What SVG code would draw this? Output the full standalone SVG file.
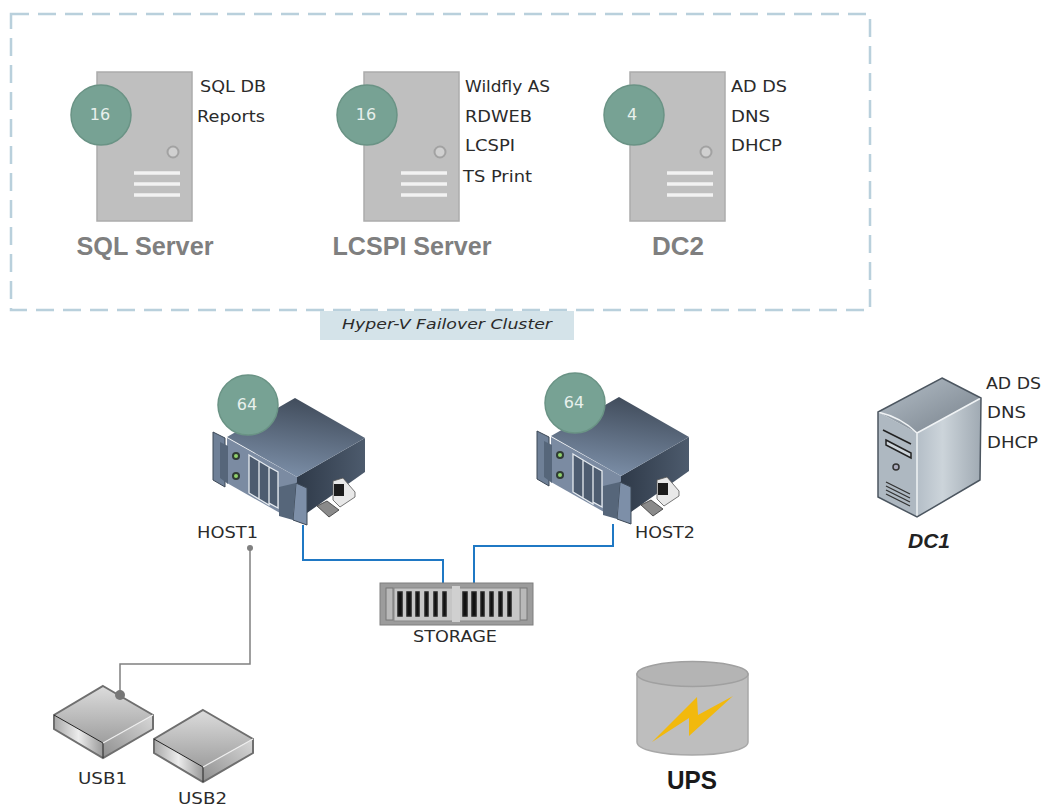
<svg xmlns="http://www.w3.org/2000/svg" xmlns:xlink="http://www.w3.org/1999/xlink" width="1043" height="807" viewBox="0 0 1043 807">
<style>
text{font-family:"DejaVu Sans","Liberation Sans",sans-serif;font-size:15px;fill:#2b2b2b}
.big{font-family:"Liberation Sans",sans-serif;font-size:25px;font-weight:bold;fill:#7f7f7f;text-anchor:middle}
.num{fill:#e8f0ec;text-anchor:middle;font-size:16px}
.mid{text-anchor:middle}
.badge{fill:#77a294;stroke:#6a9385;stroke-width:1.5}
.vm{fill:#bfbfbf;stroke:#acacac;stroke-width:1.5}
.knob{fill:#d0d0d0;stroke:#a2a2a2;stroke-width:2}
.bar{stroke:#f2f2f2;stroke-width:3.5}
.blue{fill:none;stroke:#1f78c4;stroke-width:2}
.grey{fill:none;stroke:#808080;stroke-width:1.5}
</style>
<defs>
<linearGradient id="hTop" x1="0.65" y1="0" x2="0.4" y2="1"><stop offset="0" stop-color="#3f4a59"/><stop offset="1" stop-color="#7c8fa8"/></linearGradient>
<linearGradient id="hSide" x1="0" y1="0" x2="1" y2="0"><stop offset="0" stop-color="#2f3a49"/><stop offset="1" stop-color="#4d5b6d"/></linearGradient>
<linearGradient id="uTop" x1="0.5" y1="0" x2="0.5" y2="1"><stop offset="0" stop-color="#dcdcdc"/><stop offset="1" stop-color="#9f9f9f"/></linearGradient>
<linearGradient id="uL" x1="0" y1="0" x2="1" y2="0"><stop offset="0" stop-color="#a8a8a8"/><stop offset="0.5" stop-color="#ececec"/><stop offset="1" stop-color="#999"/></linearGradient>
<linearGradient id="uR" x1="0" y1="1" x2="1" y2="0"><stop offset="0" stop-color="#8f8f8f"/><stop offset="1" stop-color="#d8d8d8"/></linearGradient>
<linearGradient id="dTop" x1="0" y1="0" x2="1" y2="1"><stop offset="0" stop-color="#b6c0c9"/><stop offset="1" stop-color="#76808a"/></linearGradient>
<linearGradient id="dSide" x1="0" y1="0" x2="1" y2="0"><stop offset="0" stop-color="#b4bec7"/><stop offset="0.4" stop-color="#ccd4da"/><stop offset="1" stop-color="#a0aab3"/></linearGradient>
<g id="vmBox">
<rect class="vm" x="0" y="0" width="95" height="149"/>
<circle class="knob" cx="76" cy="80" r="5.500"/>
<path class="bar" d="M37 101H83M37 112H83M37 123H83"/>
</g>
<g id="hostBox">
<polygon points="297,477 365,438 365,472 307,513 297,500" fill="url(#hSide)"/>
<polygon points="295,398 365,438 297,477 227,437" fill="url(#hTop)"/>
<polygon points="227,438 297,477 297,500 280,513 227,483" fill="#7b8ba2"/>
<polygon points="213,432 225,438 225,487 213,480" fill="#6f8097" stroke="#3c4856"/>
<polygon points="220,442 228,446 228,484 220,478" fill="#56667a"/>
<path d="M249 455l10 6v38l-10-6zM259 461l10 6v38l-10-6zM269 467l9 5v36l-9-5z" fill="#4d5c70" stroke="#e6ebf0" stroke-width="1.300"/>
<circle cx="236" cy="456" r="4" fill="#2f3b35"/><circle cx="236" cy="456" r="2" fill="#8fd06a"/>
<circle cx="236" cy="476" r="4" fill="#2f3b35"/><circle cx="236" cy="476" r="2" fill="#8fd06a"/>
<polygon points="296,483 307,488 307,525 293,520" fill="#7d8fa8" stroke="#3c4856"/>
<polygon points="279,487 296,483 293,520 279,516" fill="#56667a"/>
<polygon points="333,481 343,478 355,492 355,497 340,507 333,500" fill="#e8e8e8" stroke="#555" stroke-width="0.800"/>
<rect x="334" y="484" width="10" height="12" fill="#1c1c1c"/>
<polygon points="317,506 327,501 339,510 329,517" fill="#8a8a8a" stroke="#333" stroke-width="0.800"/>
</g>
<g id="usbBox">
<polygon points="54,715 103,743 103,758 54,729" fill="url(#uL)"/>
<polygon points="103,743 153,715 153,729 103,758" fill="url(#uR)"/>
<polygon points="103,686 153,715 103,743 54,715" fill="url(#uTop)"/>
<polygon points="103,686 153,715 153,729 103,758 54,729 54,715" fill="none" stroke="#6f6f6f" stroke-width="2"/>
<path d="M54 715L103 743V758" fill="none" stroke="#222" stroke-width="1"/>
<path d="M103 743L153 715" fill="none" stroke="#eee" stroke-width="1.200"/>
</g>
</defs>

<g id="cluster">
<rect x="11" y="14" width="859" height="296" fill="none" stroke="#b9d0dc" stroke-width="2.500" stroke-dasharray="18 9"/>
<rect x="320" y="311" width="254" height="29" fill="#d4e3e9"/>
<text x="447" y="329" class="mid" style="font-style:italic;font-size:14px" textLength="210" lengthAdjust="spacingAndGlyphs">Hyper-V Failover Cluster</text>
</g>

<g id="sql-server">
<use xlink:href="#vmBox" href="#vmBox" x="97" y="72"/>
<circle class="badge" cx="101" cy="115" r="30"/>
<text x="100" y="120" class="num">16</text>
<text x="200" y="92" textLength="66" lengthAdjust="spacingAndGlyphs">SQL DB</text>
<text x="197" y="122" textLength="68" lengthAdjust="spacingAndGlyphs">Reports</text>
<text x="145" y="255" class="big" textLength="137" lengthAdjust="spacingAndGlyphs">SQL Server</text>
</g>
<g id="lcspi-server">
<use xlink:href="#vmBox" href="#vmBox" x="364" y="72"/>
<circle class="badge" cx="367" cy="115" r="30"/>
<text x="366" y="120" class="num">16</text>
<text x="465" y="92" textLength="85" lengthAdjust="spacingAndGlyphs">Wildfly AS</text>
<text x="465" y="122" textLength="67" lengthAdjust="spacingAndGlyphs">RDWEB</text>
<text x="465" y="151" textLength="50" lengthAdjust="spacingAndGlyphs">LCSPI</text>
<text x="463" y="182" textLength="69" lengthAdjust="spacingAndGlyphs">TS Print</text>
<text x="412" y="255" class="big" textLength="159" lengthAdjust="spacingAndGlyphs">LCSPI Server</text>
</g>
<g id="dc2">
<use xlink:href="#vmBox" href="#vmBox" x="630" y="72"/>
<circle class="badge" cx="634" cy="115" r="30"/>
<text x="632" y="120" class="num">4</text>
<text x="731" y="92" textLength="56" lengthAdjust="spacingAndGlyphs">AD DS</text>
<text x="731" y="122" textLength="39" lengthAdjust="spacingAndGlyphs">DNS</text>
<text x="731" y="151" textLength="51" lengthAdjust="spacingAndGlyphs">DHCP</text>
<text x="678" y="255" class="big" textLength="52" lengthAdjust="spacingAndGlyphs">DC2</text>
</g>

<g id="connectors">
<path class="blue" d="M303 525V560H443V584"/>
<path class="blue" d="M613 524V546H474V584"/>
<path class="grey" d="M250 548V664H120V695"/>
<circle cx="250" cy="548" r="3" fill="#808080"/>
</g>

<g id="host1">
<use xlink:href="#hostBox" href="#hostBox"/>
<circle class="badge" cx="248" cy="405" r="30"/>
<text x="247" y="410" class="num">64</text>
<text x="197" y="538" textLength="61" lengthAdjust="spacingAndGlyphs">HOST1</text>
</g>
<g id="host2">
<use xlink:href="#hostBox" href="#hostBox" x="324" y="-1"/>
<circle class="badge" cx="575" cy="403" r="30"/>
<text x="574" y="408" class="num">64</text>
<text x="635" y="538" textLength="60" lengthAdjust="spacingAndGlyphs">HOST2</text>
</g>

<g id="dc1">
<polygon points="917,433 981,398 980,480 917,517" fill="url(#dSide)"/>
<polygon points="878,412 917,433 917,517 878,497" fill="#aeb8c1"/>
<polygon points="942,378 981,398 917,433 878,412" fill="url(#dTop)"/>
<path d="M878 412C895 416 908 424 917 433L981 398M917 433V517" fill="none" stroke="#f0f3f5" stroke-width="1.500"/>
<polygon points="942,378 981,398 980,480 917,517 878,497 878,412" fill="none" stroke="#4c5660" stroke-width="1.500"/>
<path d="M883 430L911 444M886 440L911 453V458L886 445Z" fill="#cdd4da" stroke="#222" stroke-width="1.500"/>
<circle cx="896" cy="467" r="3" fill="#aab" stroke="#333" stroke-width="1.500"/>
<path d="M886 482L910 494M886 486L910 498M886 490L910 502M886 494L910 506" stroke="#333" stroke-width="1.300"/>
<text x="986" y="389" textLength="55" lengthAdjust="spacingAndGlyphs">AD DS</text>
<text x="987" y="418" textLength="39" lengthAdjust="spacingAndGlyphs">DNS</text>
<text x="987" y="448" textLength="51" lengthAdjust="spacingAndGlyphs">DHCP</text>
<text x="929" y="548" style="font-family:'Liberation Sans',sans-serif;font-size:21px;font-weight:bold;font-style:italic;fill:#222" class="mid">DC1</text>
</g>

<g id="storage">
<rect x="380" y="583" width="153" height="42" fill="#9c9c9c" stroke="#7f7f7f"/>
<rect x="386" y="588" width="7" height="32" fill="#b9b9b9" stroke="#777"/>
<rect x="520" y="588" width="7" height="32" fill="#b9b9b9" stroke="#777"/>
<rect x="394" y="588" width="126" height="33" fill="#c6c6c6" stroke="#888"/>
<path d="M398 592h4v24h-4zM407 592h4v24h-4zM416 592h3v24h-3zM425 592h3v24h-3zM434 592h3v24h-3zM443 592h3v24h-3z" fill="#111" stroke="#222" stroke-width="1.500"/>
<path d="M463 592h4v24h-4zM472 592h4v24h-4zM481 592h3v24h-3zM490 592h3v24h-3zM499 592h3v24h-3zM508 592h3v24h-3z" fill="#111" stroke="#222" stroke-width="1.500"/>
<rect x="452" y="586" width="8" height="36" fill="#d0d0d0"/>
<text x="455" y="642" class="mid" textLength="84" lengthAdjust="spacingAndGlyphs">STORAGE</text>
</g>

<g id="usb1">
<use xlink:href="#usbBox" href="#usbBox"/>
<circle cx="120" cy="695" r="5" fill="#777"/>
<text x="78" y="784" textLength="49" lengthAdjust="spacingAndGlyphs">USB1</text>
</g>
<g id="usb2">
<use xlink:href="#usbBox" href="#usbBox" x="100" y="24"/>
<text x="178" y="804" textLength="49" lengthAdjust="spacingAndGlyphs">USB2</text>
</g>

<g id="ups">
<path d="M637 674V742C637 750 662 755 692 755S748 750 748 742V674Z" fill="#bebebe" stroke="#a8a8a8" stroke-width="1.500"/>
<ellipse cx="692.500" cy="674" rx="55.500" ry="12.500" fill="#b4b4b4" stroke="#a0a0a0" stroke-width="1.500"/>
<polygon points="733,696 698,715 697,697 652,742 689,718 689,736" fill="#f2b90d"/>
<text x="692" y="789" class="mid" style="font-family:'Liberation Sans',sans-serif;font-size:25px;font-weight:bold;fill:#1a1a1a" textLength="50" lengthAdjust="spacingAndGlyphs">UPS</text>
</g>
</svg>
